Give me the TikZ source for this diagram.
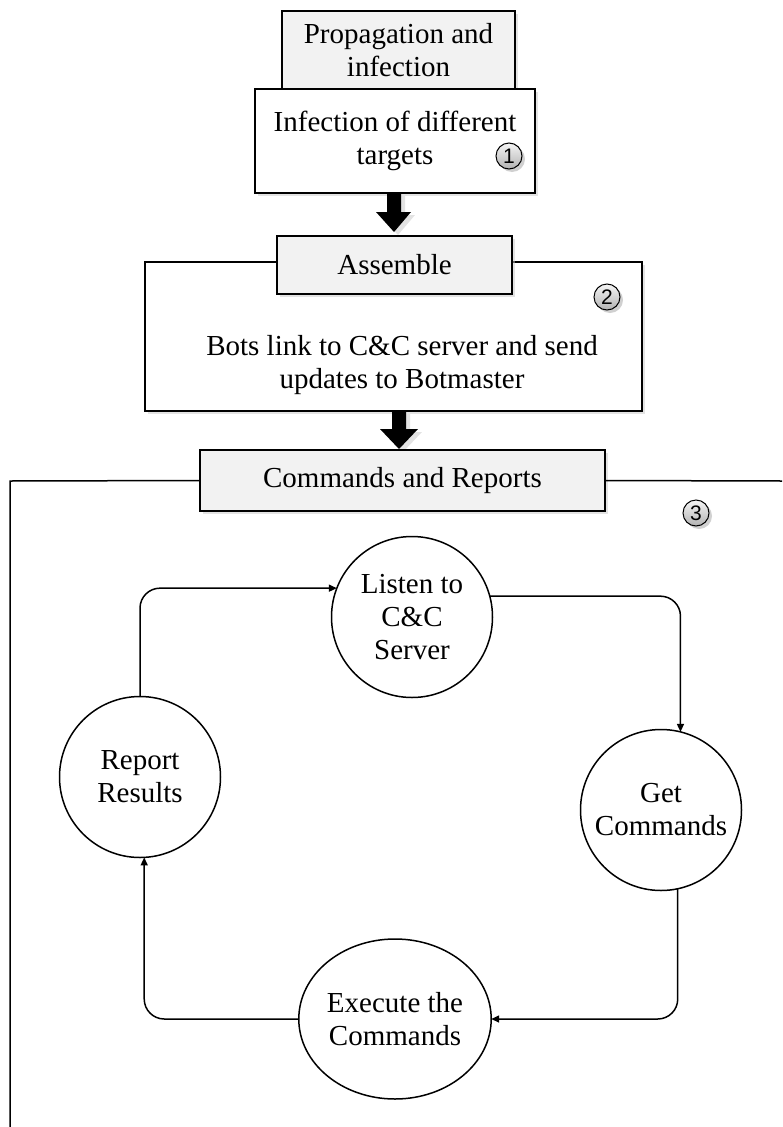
\documentclass[tikz,border=0pt]{standalone}
\usepackage{fontspec}
\setmainfont{Liberation Serif}
\newfontfamily\badgefont{Liberation Sans}
\usetikzlibrary{shadows,arrows.meta,shapes.geometric}
\begin{document}
\begin{tikzpicture}[x=1pt,y=-1pt,
  font=\fontsize{29}{33}\selectfont,
  every node/.style={inner sep=0pt, outer sep=0pt},
  myshadow/.style={drop shadow={shadow xshift=3pt, shadow yshift=-3pt, fill=black!22}},
  graybox/.style={draw, line width=1.5pt, fill=gray!10, align=center, myshadow},
  whitebox/.style={draw, line width=1.5pt, fill=white, align=center, myshadow},
  stage/.style={draw, line width=1.5pt, fill=white, circle, minimum size=161pt, align=center},
  stageell/.style={draw, line width=1.5pt, fill=white, ellipse, minimum width=176pt, minimum height=160pt, align=center},
  badge/.style={draw, line width=1pt, circle, minimum size=26pt, top color=gray!8, bottom color=gray!60,
    font=\badgefont\fontsize{21}{21}\selectfont, drop shadow={shadow xshift=3pt, shadow yshift=-3pt, fill=black!30, opacity=0.6}},
  bigarrow/.style={fill=black, drop shadow={shadow xshift=4pt, shadow yshift=-3pt, fill=black!22}},
  conn/.style={line width=1.5pt, rounded corners=20pt, -{Triangle[length=8pt,width=7pt]}},
  frame/.style={line width=1.5pt}
]
\useasboundingbox (0,0) rectangle (782,1127);

% stage 1
\node[graybox, minimum width=233pt, minimum height=78pt] (prop) at (398.5,50) {Propagation and\\infection};
\node[whitebox, minimum width=280pt, minimum height=104pt] (infect) at (395,141) {Infection of different\\targets};
\node[badge] (b1) at (509,156) {1};

% arrow 1
\fill[bigarrow] (387,193) -- (401,193) -- (401,212) -- (411,212) -- (394,232) -- (376,212) -- (387,212) -- cycle;

% stage 2
\node[whitebox, minimum width=497pt, minimum height=149pt] (asmbox) at (393.5,336.5) {};
\node[graybox, minimum width=235pt, minimum height=58pt] (assemble) at (394.5,265) {Assemble};
\node[align=center] (bots) at (402,365) {Bots link to C\&C server and send\\updates to Botmaster};
\node[badge] (b2) at (607,297) {2};

% arrow 2
\fill[bigarrow] (392,411) -- (406,411) -- (406,429) -- (418,429) -- (399,449) -- (380,429) -- (392,429) -- cycle;

% stage 3
\node[graybox, minimum width=405pt, minimum height=61pt] (cmds) at (402.5,480.5) {Commands and Reports};
\coordinate (fbl) at (10,1127);
\coordinate (ftl) at (10,481);
\coordinate (ftr) at (782,481);
\draw[frame] (fbl) -- (ftl) -- (cmds.west);
\draw[frame] (cmds.east) -- (ftr);
\node[badge] (b3) at (696,513) {3};

% cycle
\node[stage] (listen) at (412,617) {Listen to\\C\&C\\Server};
\node[stage] (get) at (661,810) {Get\\Commands};
\node[stageell] (exec) at (395,1019) {Execute the\\Commands};
\node[stage] (report) at (140,777) {Report\\Results};

\draw[conn] (listen.15) -| (get.76);
\draw[conn] (get.282) |- (exec.east);
\draw[conn] (exec.west) -| (report.273);
\draw[conn] (report.north) |- (listen.159);
\end{tikzpicture}
\end{document}
